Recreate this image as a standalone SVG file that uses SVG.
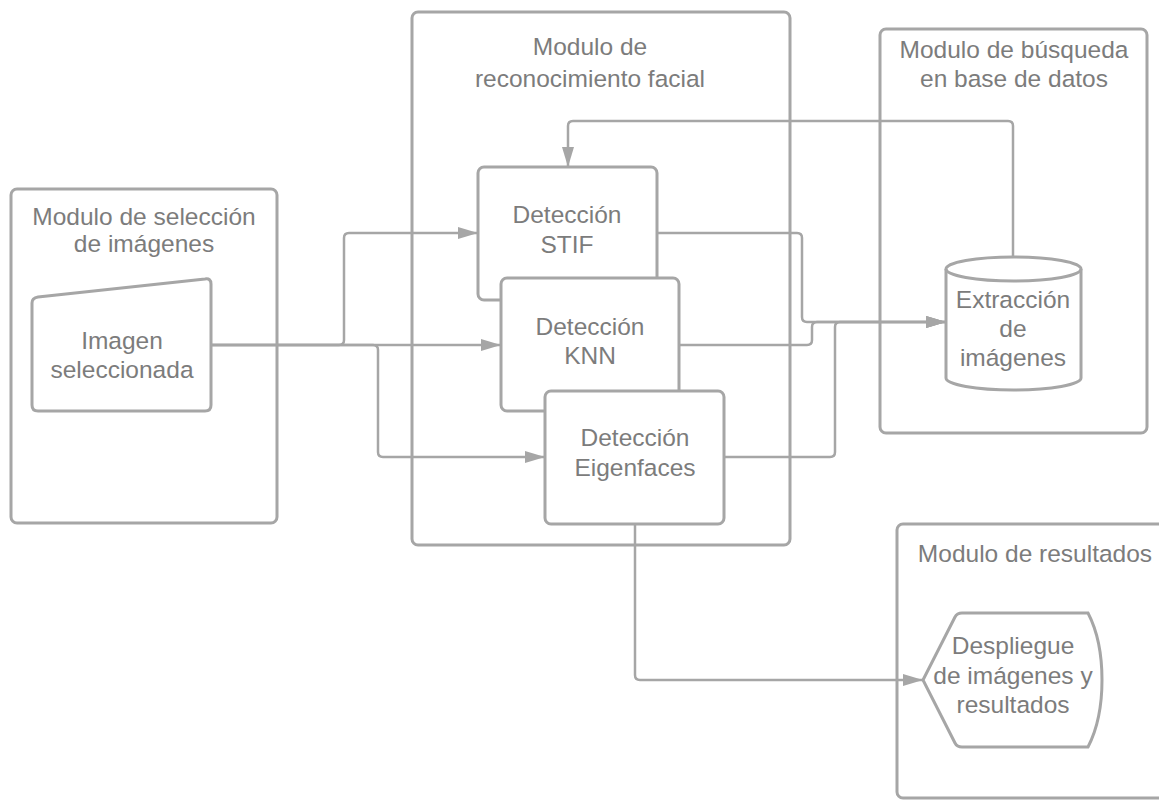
<svg xmlns="http://www.w3.org/2000/svg" width="1159" height="802" viewBox="0 0 1159 802">
<style>
.mod{fill:none;stroke:#a6a6a6;stroke-width:3}
.node{fill:#ffffff;stroke:#a6a6a6;stroke-width:3}
.conn{fill:none;stroke:#a6a6a6;stroke-width:2.5}
text{font-family:"Liberation Sans",Arial,sans-serif;font-size:24.5px;fill:#7c7c7c;text-anchor:middle}
</style>
<defs>
<marker id="arr" markerUnits="userSpaceOnUse" markerWidth="22" markerHeight="14" refX="20" refY="6" orient="auto">
<path d="M0,0 L20,6 L0,12 Z" fill="#a6a6a6"/>
</marker>
</defs>
<rect width="1159" height="802" fill="#ffffff"/>

<g id="mod-seleccion">
<rect class="mod" x="11" y="189" width="266" height="334" rx="6"/>
<text x="144" y="225">Modulo de selección</text>
<text x="144" y="252">de imágenes</text>
</g>
<g id="mod-reconocimiento">
<rect class="mod" x="412" y="12" width="378" height="533" rx="6"/>
<text x="590" y="55">Modulo de</text>
<text x="590" y="87">reconocimiento facial</text>
</g>
<g id="mod-busqueda">
<rect class="mod" x="880" y="29" width="267" height="404" rx="6"/>
<text x="1014" y="58">Modulo de búsqueda</text>
<text x="1014" y="87">en base de datos</text>
</g>
<g id="mod-resultados">
<rect class="mod" x="897" y="524" width="290" height="274" rx="6"/>
<text x="1035" y="562">Modulo de resultados</text>
</g>

<g id="connectors">
<path class="conn" d="M211,345 H339 Q344,345 344,340 V238 Q344,233 349,233 H478" marker-end="url(#arr)"/>
<path class="conn" d="M211,345 H501" marker-end="url(#arr)"/>
<path class="conn" d="M211,345 H373 Q378,345 378,350 V452 Q378,457 383,457 H545" marker-end="url(#arr)"/>
<path class="conn" d="M657,233 H797 Q802,233 802,238 V317 Q802,322 807,322 H946" marker-end="url(#arr)"/>
<path class="conn" d="M679,345 H807 Q812,345 812,340 V327 Q812,322 817,322 H946" marker-end="url(#arr)"/>
<path class="conn" d="M724,457 H830 Q835,457 835,452 V327 Q835,322 840,322 H946" marker-end="url(#arr)"/>
<path class="conn" d="M1013,257 V126 Q1013,121 1008,121 H573 Q568,121 568,126 V167" marker-end="url(#arr)"/>
<path class="conn" d="M635,524 V675 Q635,680 640,680 H923" marker-end="url(#arr)"/>
</g>

<g id="imagen">
<path class="node" d="M38,297 L205,279 Q211,278 211,284 V405 Q211,411 205,411 H38 Q32,411 32,405 V303 Q32,298 38,297 Z"/>
<text x="122" y="349">Imagen</text>
<text x="122" y="378">seleccionada</text>
</g>
<g id="stif">
<rect class="node" x="478" y="167" width="179" height="133" rx="6"/>
<text x="567" y="223">Detección</text>
<text x="567" y="253">STIF</text>
</g>
<g id="knn">
<rect class="node" x="501" y="278" width="178" height="133" rx="6"/>
<text x="590" y="335">Detección</text>
<text x="590" y="364">KNN</text>
</g>
<g id="eigen">
<rect class="node" x="545" y="391" width="179" height="133" rx="6"/>
<text x="635" y="446">Detección</text>
<text x="635" y="476">Eigenfaces</text>
</g>
<g id="extraccion">
<path class="node" d="M946,269 A67.5,12 0 0 1 1081,269 V378 A67.5,12 0 0 1 946,378 Z"/>
<path class="conn" style="stroke-width:3" d="M946,269 A67.5,12 0 0 0 1081,269"/>
<text x="1013" y="308">Extracción</text>
<text x="1013" y="337">de</text>
<text x="1013" y="366">imágenes</text>
</g>
<g id="despliegue">
<path class="node" d="M923,680 L955,617 Q957,613 962,613 H1088 Q1102,640 1102,680 Q1102,720 1088,747 H962 Q957,747 955,743 Z"/>
<text x="1013" y="654">Despliegue</text>
<text x="1013" y="684">de imágenes y</text>
<text x="1013" y="713">resultados</text>
</g>
</svg>
